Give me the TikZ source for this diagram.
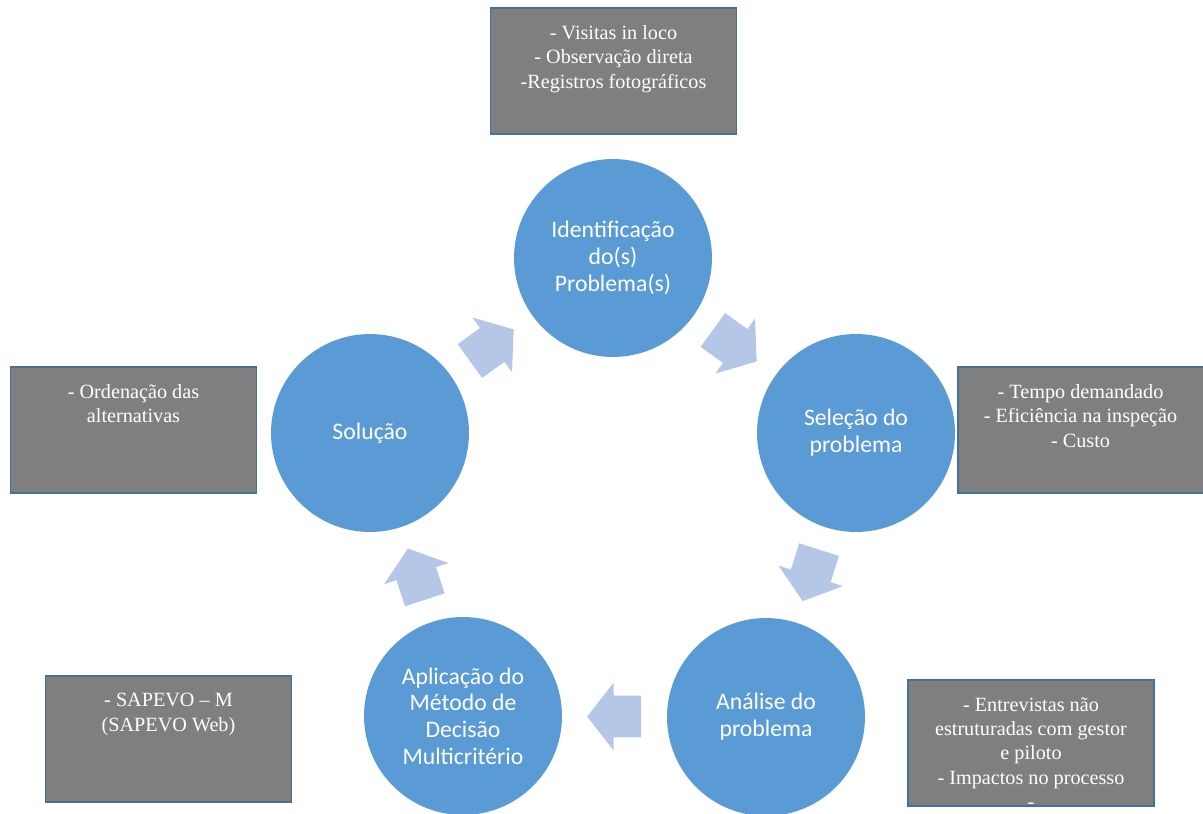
\documentclass[tikz,border=0pt]{standalone}
\usepackage{fontspec}
\setmainfont{Liberation Serif}
\newfontfamily\calibrifont{Carlito}
\usetikzlibrary{shapes.arrows,calc}

\definecolor{circblue}{HTML}{5B9BD5}
\definecolor{arrblue}{HTML}{B4C7E7}
\definecolor{boxgray}{HTML}{7F7F7F}
\definecolor{boxline}{HTML}{41719C}

\newcommand{\caixatexto}[1]{\parbox[t][1.82cm][t]{4.62cm}{\centering #1}}

\tikzset{
  etapa/.style={circle, fill=circblue, minimum size=3.96cm, inner sep=0pt,
    text=white, align=center, font=\calibrifont\fontsize{13.5}{15.2}\selectfont},
  caixa/.style={rectangle, draw=boxline, line width=1.1pt, fill=boxgray,
    text=white, inner xsep=0.15cm, inner ysep=0.35cm,
    font=\fontsize{11.5}{13.9}\selectfont},
  seta/.style={single arrow, fill=arrblue, draw=none, inner sep=0pt,
    text height=0.82cm, text depth=0cm, minimum height=1.08cm, anchor=tail,
    single arrow head extend=0.26cm, single arrow tip angle=104}
}

\begin{document}
\begin{tikzpicture}[x=0.02cm,y=-0.02cm]
    \useasboundingbox (0,0) rectangle (1203,814);

    % etapas do ciclo
    \node [etapa] (ident) at (613,258) {Identificação\\do(s)\\Problema(s)};
    \node [etapa] (selecao) at (856,433) {Seleção do\\problema};
    \node [etapa] (analise) at (766,717) {Análise do\\problema};
    \node [etapa] (aplicacao) at (463,716) {Aplicação do\\Método de\\Decisão\\Multicritério};
    \node [etapa] (solucao) at (370,433) {Solução};

    % setas entre as etapas
    \node [seta,rotate=35.8] (seta1) at ($(solucao)!0.5!(ident)!-0.54cm!(ident)$) {};
    \node [seta,rotate=-35.8] (seta2) at ($(ident)!0.5!(selecao)!-0.54cm!(selecao)$) {};
    \node [seta,rotate=-107.6] (seta3) at ($(selecao)!0.5!(analise)!-0.54cm!(analise)$) {};
    \node [seta,rotate=180] (seta4) at ($(analise)!0.5!(aplicacao)!-0.54cm!(aplicacao)$) {};
    \node [seta,rotate=108.2] (seta5) at ($(aplicacao)!0.5!(solucao)!-0.54cm!(solucao)$) {};

    % caixas de apoio
    \node [caixa] (cxident) at (613.5,71) {\caixatexto{- Visitas in loco\\- Observação direta\\-Registros fotográficos}};
    \node [caixa] (cxselecao) at (1080.5,430) {\caixatexto{- Tempo demandado\\- Eficiência na inspeção\\- Custo}};
    \node [caixa] (cxanalise) at (1031,743) {\caixatexto{- Entrevistas não\\estruturadas com gestor\\e piloto\\- Impactos no processo\\-}};
    \node [caixa] (cxaplicacao) at (168.5,739) {\caixatexto{- SAPEVO -- M\\(SAPEVO Web)}};
    \node [caixa] (cxsolucao) at (133.5,430) {\caixatexto{- Ordenação das\\alternativas}};
\end{tikzpicture}
\end{document}
